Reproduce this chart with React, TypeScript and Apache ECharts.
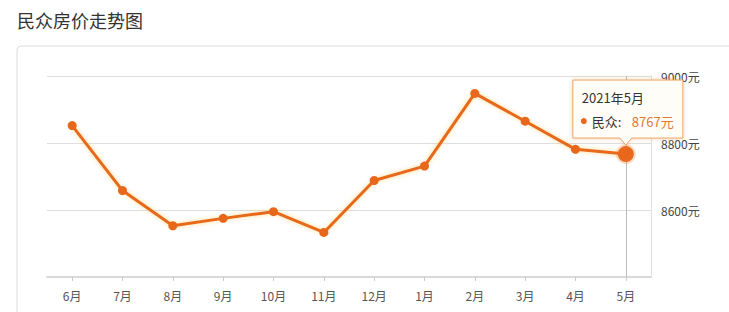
import React, { useEffect, useRef } from "react";
import * as echarts from "echarts";

const months = ["6月", "7月", "8月", "9月", "10月", "11月", "12月", "1月", "2月", "3月", "4月", "5月"];
const prices = [8852, 8658, 8553, 8575, 8595, 8533, 8688, 8731, 8948, 8865, 8781, 8767];
const yMin = 8400;
const yMax = 9000;
const yInterval = 200;
const titleText = "民众房价走势图";
const seriesName = "民众";
const tipTitle = "2021年5月";
const highlightIndex = 11;

const FONT = '"Noto Sans CJK SC", "Noto Sans", sans-serif';
const ORANGE = "#e8671b";

export default function App() {
  const ref = useRef<HTMLDivElement>(null);
  useEffect(() => {
    if (!ref.current) return;
    const chart = echarts.init(ref.current, undefined, { renderer: "svg" });
    const data = prices.map((v, i) =>
      i === highlightIndex
        ? {
            value: v,
            symbolSize: 16,
            itemStyle: { color: ORANGE, borderColor: "rgba(240,120,40,0.25)", borderWidth: 4 },
          }
        : v
    );
    chart.setOption({
      animation: false,
      textStyle: { fontFamily: FONT },
      title: {
        text: titleText,
        left: 12,
        top: 6,
        textStyle: { fontSize: 18, fontWeight: "normal", color: "#333", fontFamily: FONT },
      },
      grid: { left: 47, right: 78, top: 76, bottom: 35, containLabel: false },
      xAxis: {
        type: "category",
        data: months,
        boundaryGap: true,
        axisLine: { show: true, lineStyle: { color: "#d9d9d9", width: 2 } },
        axisTick: { show: true, alignWithLabel: true, length: 4, lineStyle: { color: "#ccc" } },
        axisLabel: { color: "#555", fontSize: 12, margin: 12, fontFamily: FONT },
        splitLine: { show: false },
      },
      yAxis: {
        type: "value",
        position: "right",
        min: yMin,
        max: yMax,
        interval: yInterval,
        axisLine: { show: true, lineStyle: { color: "#e0e0e0", width: 1 } },
        axisTick: { show: false },
        axisLabel: {
          formatter: (v: number) => String(v) + "元",
          color: "#444",
          fontSize: 12,
          margin: 10,
          showMinLabel: false,
          fontFamily: FONT,
        },
        splitLine: { show: true, lineStyle: { color: "#dedede", width: 1 } },
      },
      series: [
        {
          name: seriesName,
          type: "line",
          z: 3,
          data,
          symbol: "circle",
          symbolSize: 9,
          itemStyle: { color: ORANGE },
          lineStyle: {
            color: ORANGE,
            width: 3,
            shadowColor: "rgba(255,190,60,0.6)",
            shadowBlur: 4,
          },
          markLine: {
            silent: true,
            z: 1,
            symbol: "none",
            label: { show: false },
            lineStyle: { color: "#bbb", width: 1, type: "solid" },
            data: [{ xAxis: months[highlightIndex] }],
          },
        },
      ],
    });

    const pt = chart.convertToPixel({ seriesIndex: 0 }, [highlightIndex, prices[highlightIndex]]) as number[];
    const px = pt[0];
    const py = pt[1];
    const L = px - 53;
    const R = px + 57;
    const T = py - 74;
    const B = py - 16;
    const bubble = [
      [L, T],
      [R, T],
      [R, B],
      [px + 6, B],
      [px, B + 7],
      [px - 6, B],
      [L, B],
    ];
    chart.setOption({
      graphic: [
        {
          type: "rect",
          shape: { x: 17, y: 46, width: 800, height: 400, r: 4 },
          style: { fill: "none", stroke: "#dcdcdc", lineWidth: 1 },
          silent: true,
          z: -10,
        },
        {
          type: "polygon",
          shape: { points: bubble },
          style: {
            fill: "#fffdf7",
            stroke: "#f0a464",
            lineWidth: 1,
            shadowColor: "rgba(230,140,60,0.35)",
            shadowBlur: 5,
          },
          z: 100,
        },
        {
          type: "text",
          x: L + 9,
          y: T + 17,
          style: { text: tipTitle, fill: "#333", fontSize: 13, fontFamily: FONT, verticalAlign: "middle" },
          z: 101,
        },
        {
          type: "circle",
          shape: { cx: L + 11, cy: T + 41, r: 3 },
          style: { fill: ORANGE },
          z: 101,
        },
        {
          type: "text",
          x: L + 19,
          y: T + 41,
          style: { text: seriesName + ":", fill: "#333", fontSize: 13, fontFamily: FONT, verticalAlign: "middle" },
          z: 101,
        },
        {
          type: "text",
          x: L + 59,
          y: T + 41,
          style: {
            text: prices[highlightIndex] + "元",
            fill: "#e07a30",
            fontSize: 13,
            fontFamily: FONT,
            verticalAlign: "middle",
          },
          z: 101,
        },
      ],
    });

    return () => chart.dispose();
  }, []);
  return (
    <div
      ref={ref}
      style={{ position: "fixed", left: 0, top: 0, width: 729, height: 312, background: "#fff" }}
    />
  );
}
